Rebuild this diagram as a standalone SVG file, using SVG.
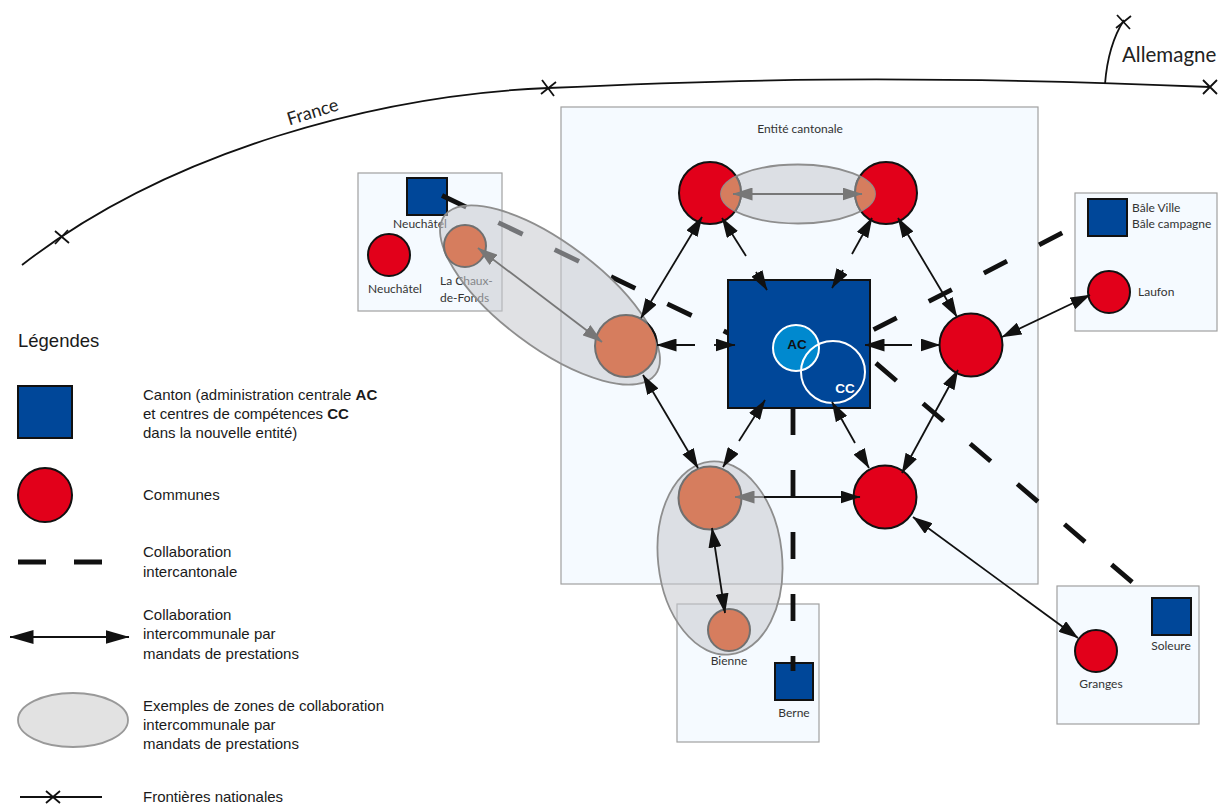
<svg xmlns="http://www.w3.org/2000/svg" width="1222" height="804" viewBox="0 0 1222 804">
<style>
.bd{fill:none;stroke:#111;stroke-width:1.8}
.box{fill:#f5faff;stroke:#a0a0a0;stroke-width:1.2}
.sq{fill:#004799;stroke:#111;stroke-width:2}
.red{fill:#e2001a;stroke:#111;stroke-width:2}
.org{fill:#d67d5e;stroke:#707070;stroke-width:2}
.ell{fill:#c6c9ce;fill-opacity:0.55;stroke:#8e8e8e;stroke-width:1.8}
.lbl{font-family:Lato,"Open Sans",sans-serif;font-size:12px;fill:#333}
.lg{font-family:"Liberation Sans",Arial,sans-serif;font-size:15px;fill:#1a1a1a}
.ic{fill:none;stroke:#111;stroke-width:4.8}
.ab{fill:none;stroke:#111;stroke-width:1.8;marker-start:url(#ahB);marker-end:url(#ahB)}
.ae{fill:none;stroke:#111;stroke-width:1.8;marker-end:url(#ahB)}
.ag{fill:none;stroke:#777;stroke-width:1.8;marker-start:url(#ahG);marker-end:url(#ahG)}
.age{fill:none;stroke:#777;stroke-width:1.8;marker-end:url(#ahG)}
</style>
<defs>
<marker id="ahB" markerUnits="userSpaceOnUse" markerWidth="20" markerHeight="13" viewBox="0 0 20 13" refX="19.5" refY="6.5" orient="auto-start-reverse"><path d="M0,0 L20,6.5 L0,13 z" fill="#111"/></marker>
<marker id="ahG" markerUnits="userSpaceOnUse" markerWidth="20" markerHeight="13" viewBox="0 0 20 13" refX="19.5" refY="6.5" orient="auto-start-reverse"><path d="M0,0 L20,6.5 L0,13 z" fill="#777"/></marker>
<marker id="ahL" markerUnits="userSpaceOnUse" markerWidth="24" markerHeight="14" viewBox="0 0 24 14" refX="23.5" refY="7" orient="auto-start-reverse"><path d="M0,0 L24,7 L0,14 z" fill="#111"/></marker>
<clipPath id="clipTop"><ellipse cx="798" cy="194" rx="77" ry="29.5"/></clipPath>
<mask id="outLeft"><rect x="0" y="0" width="1222" height="804" fill="#fff"/><ellipse cx="550" cy="295" rx="132" ry="52" transform="rotate(37 550 295)" fill="#000"/></mask>
</defs>

<g id="borders">
<path class="bd" d="M22,265 C170,150 380,95 548,88 C720,80 900,74 1210,87"/>
<path class="bd" d="M1105,84 Q1108,45 1124,20"/>
<path class="bd" d="M55,231 L69,243 M55,244 L68,230"/>
<path class="bd" d="M542,80 L554,96 M541,94 L556,82"/>
<path class="bd" d="M1203,80 L1217,94 M1203,94 L1217,80"/>
<path class="bd" d="M1117,15 L1130,29 M1116,28 L1131,16"/>
<text x="313" y="118" transform="rotate(-17 313 113)" text-anchor="middle" style="font-family:Lato,'Open Sans',sans-serif;font-size:18px;fill:#222">France</text>
<text x="1122" y="62" style="font-family:Lato,'Open Sans',sans-serif;font-size:20.5px;fill:#222">Allemagne</text>
</g>

<g id="entite-cantonale-box">
<rect class="box" x="561" y="107" width="477" height="477"/>
<text class="lbl" x="800" y="133" text-anchor="middle">Entité cantonale</text>
</g>
<g id="neuchatel-box">
<rect class="box" x="358" y="173" width="144" height="138"/>
<text class="lbl" x="420" y="228" text-anchor="middle">Neuchâtel</text>
<text class="lbl" x="395" y="293" text-anchor="middle">Neuchâtel</text>
<text class="lbl" x="440" y="285">La Chaux-</text>
<text class="lbl" x="440" y="302">de-Fonds</text>
</g>
<g id="berne-box">
<rect class="box" x="677" y="604" width="142" height="138"/>
<text class="lbl" x="729" y="665" text-anchor="middle">Bienne</text>
<text class="lbl" x="794" y="717" text-anchor="middle">Berne</text>
</g>
<g id="bale-box">
<rect class="box" x="1075" y="193" width="142" height="138"/>
<text class="lbl" x="1132" y="212">Bâle Ville</text>
<text class="lbl" x="1132" y="228">Bâle campagne</text>
<text class="lbl" x="1138" y="296">Laufon</text>
</g>
<g id="soleure-box">
<rect class="box" x="1057" y="586" width="142" height="138"/>
<text class="lbl" x="1171" y="650" text-anchor="middle">Soleure</text>
<text class="lbl" x="1101" y="688" text-anchor="middle">Granges</text>
</g>

<g id="canton-neuchatel"><rect class="sq" x="407" y="178" width="40" height="37"/></g>
<g id="canton-berne"><rect class="sq" x="775" y="663" width="38" height="37"/></g>
<g id="canton-bale"><rect class="sq" x="1088" y="199" width="39" height="37"/></g>
<g id="canton-soleure"><rect class="sq" x="1152" y="598" width="39" height="37"/></g>

<g id="intercantonal">
<line class="ic" x1="442" y1="195.5" x2="728" y2="333" stroke-dasharray="27 35.5"/>
<line class="ic" x1="1088" y1="219.7" x2="870" y2="331.5" stroke-dasharray="26 36" stroke-dashoffset="33"/>
<line class="ic" x1="1136.7" y1="586" x2="871" y2="359" stroke-dasharray="27 35" stroke-dashoffset="56"/>
<line class="ic" x1="793" y1="408" x2="793" y2="671" stroke-dasharray="27 35"/>
</g>

<g id="commune-tl"><circle class="red" cx="710" cy="193" r="31"/></g>
<g id="commune-tr"><circle class="red" cx="886" cy="193" r="31"/></g>
<g id="commune-r"><circle class="red" cx="971" cy="345" r="31.5"/></g>
<g id="commune-br"><circle class="red" cx="885" cy="497" r="31.5"/></g>
<g id="commune-neuchatel"><circle class="red" cx="389" cy="255" r="21"/></g>
<g id="commune-laufon"><circle class="red" cx="1109" cy="292" r="21"/></g>
<g id="commune-granges"><circle class="red" cx="1096" cy="651" r="21"/></g>

<g id="zones">
<ellipse class="ell" cx="550" cy="295" rx="132" ry="52" transform="rotate(37 550 295)"/>
<ellipse class="ell" cx="798" cy="194" rx="77" ry="29.5"/>
<ellipse class="ell" cx="720" cy="558" rx="62" ry="97" transform="rotate(-6 720 558)"/>
</g>

<g id="commune-chaux"><circle class="org" cx="465" cy="246" r="21"/></g>
<g id="commune-l">
<circle class="org" cx="626" cy="346" r="31"/>
<circle cx="626" cy="346" r="31" fill="none" stroke="#111" stroke-width="2" mask="url(#outLeft)"/>
</g>
<g id="commune-bl"><circle class="org" cx="710" cy="498" r="31.5"/></g>
<g id="commune-bienne"><circle class="org" cx="729" cy="630" r="21"/></g>
<g id="zone-top-overlap" clip-path="url(#clipTop)">
<circle class="org" cx="710" cy="193" r="31"/>
<circle class="org" cx="886" cy="193" r="31"/>
</g>

<g id="canton-central">
<rect class="sq" x="728" y="280" width="142" height="128"/>
<circle cx="796" cy="348" r="23" fill="#0089cf" stroke="#fff" stroke-width="2"/>
<ellipse cx="833" cy="372" rx="32" ry="31" fill="none" stroke="#fff" stroke-width="2"/>
<text x="797" y="349" text-anchor="middle" style="font-family:'Liberation Sans',Arial,sans-serif;font-size:13.5px;font-weight:bold;fill:#111">AC</text>
<text x="845" y="393" text-anchor="middle" style="font-family:'Liberation Sans',Arial,sans-serif;font-size:13.5px;font-weight:bold;fill:#fff">CC</text>
</g>

<g id="connectors">
<line class="ab" x1="641" y1="318" x2="702" y2="217"/>
<line class="ab" x1="898" y1="218" x2="957" y2="317"/>
<line class="ab" x1="958" y1="370" x2="902" y2="473"/>
<line class="ab" x1="643" y1="375" x2="698" y2="468"/>
<line class="ab" x1="712" y1="528" x2="725" y2="613"/>
<line class="ab" x1="1002" y1="337" x2="1090" y2="295"/>
<line class="ab" x1="913" y1="517" x2="1078" y2="638"/>
<line class="ae" x1="764" y1="497" x2="860" y2="497"/>
<line class="age" x1="764" y1="497" x2="735" y2="497"/>
<line class="ag" x1="733" y1="194" x2="862" y2="194"/>
<line class="ag" x1="478" y1="248" x2="602" y2="342"/>
<line class="ae" x1="746" y1="256" x2="722" y2="218"/>
<line class="ae" x1="756" y1="272" x2="767" y2="290"/>
<line class="ae" x1="852" y1="254" x2="872" y2="218"/>
<line class="ae" x1="843" y1="270" x2="832" y2="288"/>
<line class="ae" x1="912" y1="345" x2="865" y2="345"/>
<line class="ae" x1="921" y1="345" x2="940" y2="345"/>
<line class="ae" x1="855" y1="443" x2="832" y2="402"/>
<line class="ae" x1="859" y1="451" x2="869" y2="468"/>
<line class="ae" x1="739" y1="441" x2="765" y2="400"/>
<line class="ae" x1="733" y1="451" x2="723" y2="467"/>
<line class="ae" x1="695" y1="345" x2="657" y2="345"/>
<line class="ae" x1="714" y1="345" x2="735" y2="345"/>
</g>

<g id="legend">
<text x="18" y="347" style="font-family:'Liberation Sans',Arial,sans-serif;font-size:18.5px;fill:#1a1a1a">Légendes</text>
<rect class="sq" x="18" y="386" width="54" height="52"/>
<text class="lg" x="143" y="400">Canton (administration centrale <tspan font-weight="bold">AC</tspan></text>
<text class="lg" x="143" y="419">et centres de compétences <tspan font-weight="bold">CC</tspan></text>
<text class="lg" x="143" y="438">dans la nouvelle entité)</text>
<circle class="red" cx="45" cy="495" r="27"/>
<text class="lg" x="143" y="500">Communes</text>
<line x1="18" y1="562" x2="102" y2="562" stroke="#111" stroke-width="5" stroke-dasharray="28 28"/>
<text class="lg" x="143" y="557">Collaboration</text>
<text class="lg" x="143" y="577">intercantonale</text>
<line x1="10" y1="637" x2="129" y2="637" stroke="#111" stroke-width="2" marker-start="url(#ahL)" marker-end="url(#ahL)"/>
<text class="lg" x="143" y="620">Collaboration</text>
<text class="lg" x="143" y="639">intercommunale par</text>
<text class="lg" x="143" y="659">mandats de prestations</text>
<ellipse cx="73" cy="720" rx="55" ry="27" fill="#e2e2e2" stroke="#999" stroke-width="1.8"/>
<text class="lg" x="143" y="711">Exemples de zones de collaboration</text>
<text class="lg" x="143" y="730">intercommunale par</text>
<text class="lg" x="143" y="749">mandats de prestations</text>
<line class="bd" x1="20" y1="797" x2="102" y2="797"/>
<path class="bd" d="M46,791 L60,803 M46,803 L60,791"/>
<text class="lg" x="143" y="802">Frontières nationales</text>
</g>
</svg>
